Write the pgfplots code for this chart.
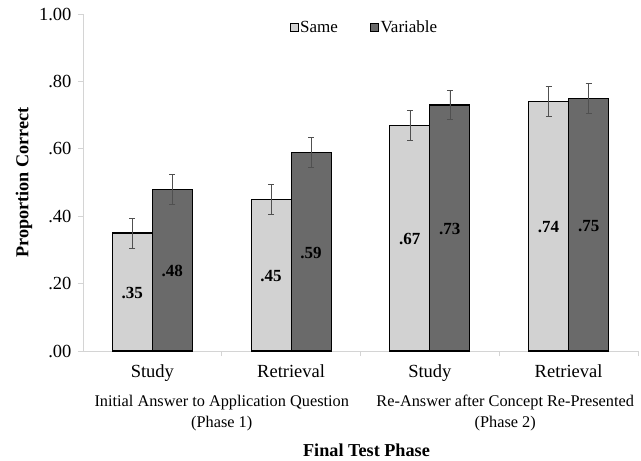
\documentclass[border=0pt]{standalone}
\usepackage{pgfplots}
\usepackage{pgfplotstable}
\pgfplotsset{compat=1.18}
\usepackage{fontspec}
\setmainfont{Liberation Serif}
\definecolor{samec}{HTML}{D2D2D2}
\definecolor{varc}{HTML}{6A6A6A}
\definecolor{axc}{HTML}{D4D4D4}
\definecolor{errc}{HTML}{505050}
\pgfplotstableread{
x y e lab
0 0.35 0.044 .35
1 0.45 0.044 .45
2 0.67 0.044 .67
3 0.74 0.044 .74
}\samedata
\pgfplotstableread{
x y e lab
0 0.48 0.044 .48
1 0.59 0.044 .59
2 0.73 0.044 .73
3 0.75 0.044 .75
}\vardata
\begin{document}
\begin{tikzpicture}
\useasboundingbox (-83pt,-110pt) rectangle (558pt,351pt);
\begin{axis}[
 at={(0pt,0pt)}, anchor=south west,
 width=555pt, height=337pt, scale only axis,
 clip=false,
 ybar=0pt, bar width=40pt,
 xmin=-0.5, xmax=3.5, ymin=0, ymax=1,
 xtick={0,1,2,3}, xticklabels={Study,Retrieval,Study,Retrieval},
 major x tick style={draw=none},
 extra x ticks={0.5,1.5,2.5,3.5}, extra x tick labels={},
 extra x tick style={major x tick style={draw=axc, line width=0.8pt}, major tick length=5pt, tick align=outside},
 ytick={0,0.2,0.4,0.6,0.8,1}, yticklabels={.00,.20,.40,.60,.80,1.00},
 axis x line*=bottom, axis y line*=left,
 axis line style={draw=axc, line width=0.8pt, -},
 tick align=outside, major tick length=5pt,
 y tick style={draw=axc, line width=0.8pt},
 tick label style={font=\fontsize{18.5}{21}\selectfont},
 xticklabel style={yshift=-5pt},
 yticklabel style={xshift=-3pt},
 /pgf/number format/assume math mode=true,
 ylabel={\textbf{Proportion Correct}},
 ylabel style={font=\fontsize{18.2}{21}\selectfont, yshift=0pt},
 legend columns=2,
 legend style={draw=none, fill=none, at={(0.507,0.961)}, anchor=center,
   font=\fontsize{17}{19}\selectfont,
   /tikz/every even column/.append style={column sep=30pt}},
 legend image code/.code={\draw[#1, draw=black, line width=0.6pt] (0pt,-4pt) rectangle (8pt,4pt);},
 point meta=explicit symbolic,
 nodes near coords,
 visualization depends on=y \as \rawy,
 nodes near coords style={anchor=center, font=\fontsize{17}{19}\selectfont\bfseries,
   shift={(axis direction cs:0,-\rawy/2)}, yshift=-1pt},
 error bars/error bar style={draw=errc, line width=0.7pt},
 error bars/error mark options={rotate=90, mark size=3pt, draw=errc, line width=0.7pt},
]
\addplot[fill=samec, draw=black, line width=1.2pt,
  error bars/.cd, y dir=both, y explicit]
  table[x=x, y=y, y error=e, meta=lab] {\samedata};
\addlegendentry{Same}
\addplot[fill=varc, draw=black, line width=1.2pt,
  error bars/.cd, y dir=both, y explicit]
  table[x=x, y=y, y error=e, meta=lab] {\vardata};
\addlegendentry{Variable}
\node[font=\fontsize{16.3}{21}\selectfont, align=center, anchor=center] at (axis cs:0.5,0) [yshift=-62pt]
  {Initial Answer to Application Question\\(Phase 1)};
\node[font=\fontsize{16.3}{21}\selectfont, align=center, anchor=center] at (axis cs:2.5,0) [yshift=-62pt, xshift=6pt]
  {Re-Answer after Concept Re-Presented\\(Phase 2)};
\node[font=\fontsize{18.2}{21}\selectfont\bfseries, anchor=center, inner sep=0pt] at (axis cs:1.5,0) [yshift=-99pt, xshift=6pt]
  {Final Test Phase};
\end{axis}
\end{tikzpicture}
\end{document}
